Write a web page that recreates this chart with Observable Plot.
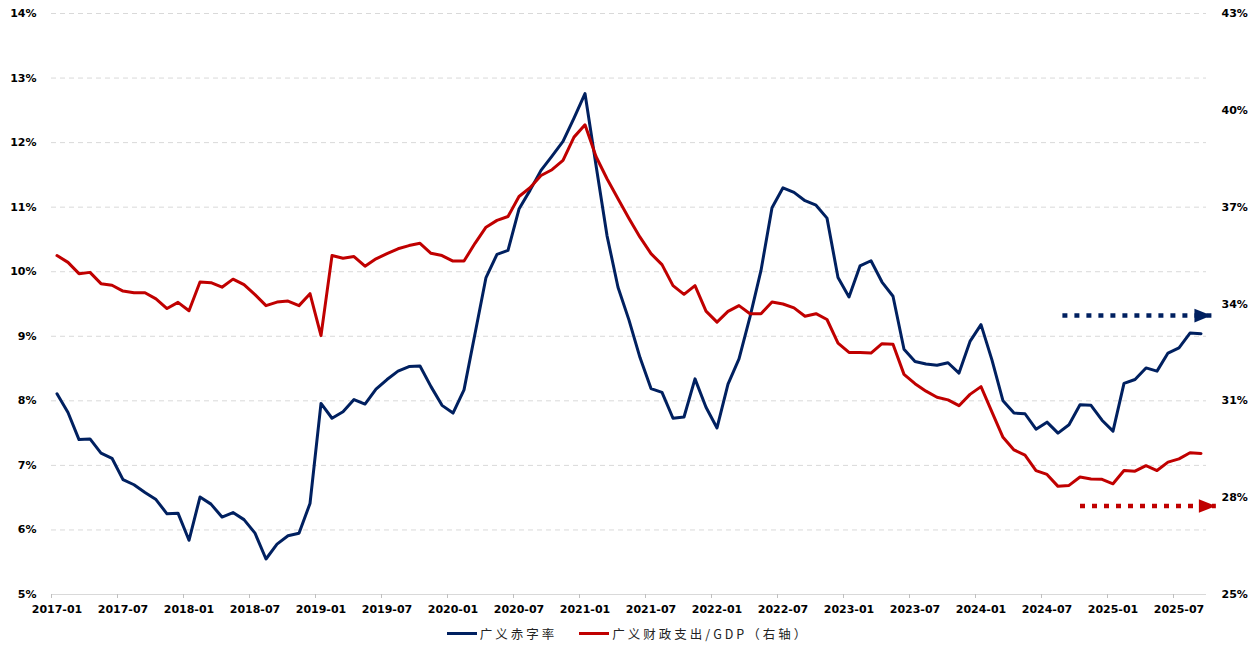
<!DOCTYPE html>
<html>
<head>
<meta charset="utf-8">
<script src="https://cdn.jsdelivr.net/npm/d3@7"></script>
<script src="https://cdn.jsdelivr.net/npm/@observablehq/plot@0.6"></script>
<style>
  body { margin: 0; background: #fff; }
  #chart svg { display: block; }
  #legend {
    height: 26px; display: flex; justify-content: center; align-items: center;
    font-family: "Noto Sans CJK SC", sans-serif; font-size: 12.5px; letter-spacing: 3px; color: #222;
  }
  .item { display: flex; align-items: center; margin: 0 11px; }
  .swatch { width: 30px; height: 3px; margin-right: 3px; }
</style>
</head>
<body>
<div id="chart"></div>
<div id="legend"></div>
<script>
// ---- Data ----
const startYear = 2017;
const months = [];
for (let i = 0; i < 105; i++) {
  const y = startYear + Math.floor(i / 12), m = (i % 12) + 1;
  months.push(`${y}-${String(m).padStart(2, "0")}`);
}
// 广义赤字率 (left axis, %)
const deficitRate = [
  8.11, 7.82, 7.40, 7.41, 7.19, 7.11, 6.78, 6.70, 6.58, 6.47, 6.25, 6.26,
  5.84, 6.51, 6.40, 6.20, 6.27, 6.16, 5.95, 5.55, 5.78, 5.91, 5.95, 6.41,
  7.96, 7.73, 7.83, 8.02, 7.95, 8.18, 8.33, 8.46, 8.53, 8.54, 8.22, 7.93,
  7.81, 8.17, 9.04, 9.91, 10.27, 10.33, 10.97, 11.26, 11.57, 11.79, 12.02, 12.38,
  12.76, 11.65, 10.56, 9.76, 9.25, 8.67, 8.19, 8.13, 7.73, 7.75, 8.34, 7.90,
  7.58, 8.26, 8.65, 9.30, 10.02, 10.99, 11.30, 11.23, 11.10, 11.03, 10.83, 9.91,
  9.61, 10.09, 10.17, 9.84, 9.62, 8.80, 8.61, 8.57, 8.55, 8.59, 8.43, 8.92,
  9.18, 8.63, 8.00, 7.81, 7.80, 7.56, 7.67, 7.50, 7.63, 7.94, 7.93, 7.70,
  7.53, 8.27, 8.33, 8.51, 8.46, 8.74, 8.82, 9.05, 9.04
];
// 广义财政支出/GDP (right axis, %)
const spendingGDP = [
  35.50, 35.29, 34.94, 34.98, 34.63, 34.58, 34.40, 34.35, 34.35, 34.16, 33.86, 34.05,
  33.79, 34.68, 34.66, 34.52, 34.77, 34.60, 34.29, 33.95, 34.06, 34.09, 33.95, 34.32,
  33.02, 35.50, 35.42, 35.47, 35.17, 35.40, 35.56, 35.71, 35.81, 35.88, 35.57, 35.50,
  35.33, 35.33, 35.88, 36.38, 36.59, 36.71, 37.33, 37.60, 37.98, 38.16, 38.45, 39.17,
  39.55, 38.57, 37.88, 37.26, 36.65, 36.07, 35.56, 35.22, 34.57, 34.30, 34.57, 33.78,
  33.44, 33.77, 33.95, 33.70, 33.70, 34.06, 34.00, 33.88, 33.62, 33.70, 33.52, 32.79,
  32.50, 32.50, 32.48, 32.77, 32.75, 31.82, 31.53, 31.30, 31.11, 31.03, 30.85, 31.20,
  31.44, 30.65, 29.87, 29.48, 29.32, 28.84, 28.72, 28.35, 28.38, 28.64, 28.58, 28.57,
  28.43, 28.84, 28.82, 28.99, 28.84, 29.10, 29.20, 29.39, 29.37
];
const tickLabels = ["2017-01","2017-07","2018-01","2018-07","2019-01","2019-07","2020-01","2020-07",
  "2021-01","2021-07","2022-01","2022-07","2023-01","2023-07","2024-01","2024-07","2025-01","2025-07"];
const leftTicks = [5, 6, 7, 8, 9, 10, 11, 12, 13, 14];
const rightTicks = [25, 28, 31, 34, 37, 40, 43];
const seriesNames = ["广义赤字率", "广义财政支出/GDP（右轴）"];
const seriesColors = ["#002060", "#C00000"];
// annotation arrows (month index positions, level on own axis)
const arrowFrom = [91.9, 93.5];
const arrowTo = [105.45, 105.85];
const arrowLevel = [9.32, 27.74];
const arrowAxis = ["left", "right"];

// ---- Helpers ----
const leftMin = 5, leftSpan = 9, rightMin = 25, rightSpan = 18;
const toLeft = v => leftMin + (v - rightMin) * leftSpan / rightSpan;
const fromLeft = v => Math.round(rightMin + (v - leftMin) * rightSpan / leftSpan);

const blueData = deficitRate.map((v, i) => ({x: i + 0.5, y: v}));
const redData = spendingGDP.map((v, i) => ({x: i + 0.5, y: toLeft(v)}));
const tickIdx = tickLabels.map(l => months.indexOf(l));

const rightTri = {
  draw(ctx) {
    ctx.moveTo(-8.5, -6.8);
    ctx.lineTo(8.5, 0);
    ctx.lineTo(-8.5, 6.8);
    ctx.closePath();
  }
};

const arrowMarks = [];
arrowFrom.forEach((f, i) => {
  const yv = arrowAxis[i] === "left" ? arrowLevel[i] : toLeft(arrowLevel[i]);
  arrowMarks.push(Plot.link([0], {x1: f, x2: arrowTo[i], y1: yv, y2: yv,
    stroke: seriesColors[i], strokeWidth: 4.5, strokeDasharray: "5,7", strokeLinecap: "butt"}));
  arrowMarks.push(Plot.dot([0], {x: arrowTo[i], y: yv, dx: -8.5, symbol: rightTri,
    fill: seriesColors[i], stroke: "none"}));
});

const chart = Plot.plot({
  width: 1256, height: 620,
  marginLeft: 51, marginRight: 50, marginTop: 13, marginBottom: 26,
  style: {fontFamily: "DejaVu Sans", fontSize: "11px", fontWeight: "bold", color: "#000", background: "#fff"},
  x: {type: "linear", domain: [0, 105]},
  y: {domain: [5, 14]},
  marks: [
    Plot.gridY(leftTicks.slice(1), {stroke: "#d9d9d9", strokeOpacity: 1, strokeDasharray: "5,4", strokeWidth: 1}),
    Plot.ruleY([5], {stroke: "#d9d9d9", strokeWidth: 1.2}),
    Plot.axisY(leftTicks, {anchor: "left", tickSize: 0, tickPadding: 15, tickFormat: d => d + "%", label: null}),
    Plot.axisY(rightTicks.map(toLeft), {anchor: "right", tickSize: 0, tickPadding: 15, tickFormat: d => fromLeft(d) + "%", label: null}),
    Plot.axisX(tickIdx, {anchor: "bottom", tickSize: 4, stroke: "#bfbfbf", tickFormat: () => "", label: null}),
    Plot.axisX(tickIdx.map(d => d + 0.5), {anchor: "bottom", tickSize: 0, tickPadding: 11, tickFormat: d => months[d - 0.5], label: null}),
    Plot.line(blueData, {x: "x", y: "y", stroke: seriesColors[0], strokeWidth: 3}),
    Plot.line(redData, {x: "x", y: "y", stroke: seriesColors[1], strokeWidth: 3}),
    ...arrowMarks
  ]
});
document.getElementById("chart").appendChild(chart);

const legend = document.getElementById("legend");
seriesNames.forEach((n, i) => {
  const item = document.createElement("div");
  item.className = "item";
  const sw = document.createElement("span");
  sw.className = "swatch";
  sw.style.background = seriesColors[i];
  const t = document.createElement("span");
  t.textContent = n;
  item.appendChild(sw); item.appendChild(t);
  legend.appendChild(item);
});
</script>
</body>
</html>
